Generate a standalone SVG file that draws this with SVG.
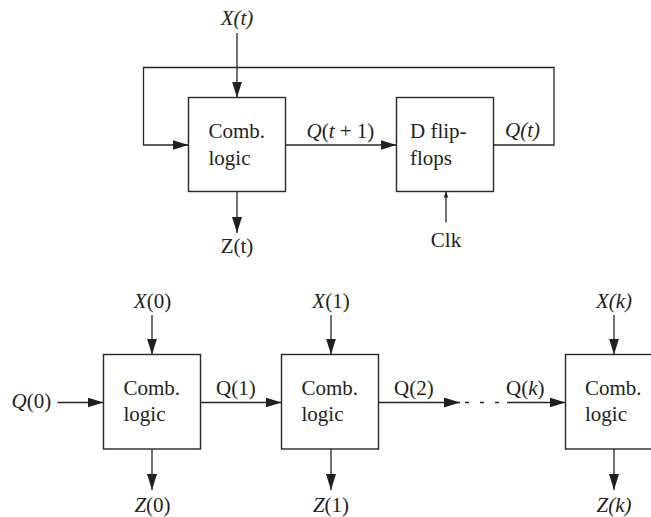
<svg xmlns="http://www.w3.org/2000/svg" width="651" height="517" viewBox="0 0 651 517">
<style>
  .box{fill:#fff;stroke:#2b2621;stroke-width:1.4}
  .ln{fill:none;stroke:#2b2621;stroke-width:1.3}
  text{font-family:"Liberation Serif","Times New Roman",serif;font-size:21px;fill:#231f20}
  .c{text-anchor:middle}
  .i{font-style:italic}
</style>
<defs>
  <marker id="ah" markerUnits="userSpaceOnUse" markerWidth="17" markerHeight="11" refX="16" refY="5" orient="auto">
    <path d="M0,0 L16,5 L0,10 z" fill="#231f20"/>
  </marker>
  <marker id="sh" markerUnits="userSpaceOnUse" markerWidth="7" markerHeight="5" refX="6" refY="2.25" orient="auto">
    <path d="M0,0 L6,2.25 L0,4.5 z" fill="#231f20"/>
  </marker>
</defs>
<rect width="651" height="517" fill="#fff"/>
<g id="connectors">
  <line class="ln" x1="237" y1="33" x2="237" y2="97.5" marker-end="url(#ah)"/>
  <path class="ln" d="M493.5,145 H554 V67.5 H143.5 V145 H188.5" marker-end="url(#ah)"/>
  <line class="ln" x1="285.5" y1="145" x2="396.5" y2="145" marker-end="url(#ah)"/>
  <line class="ln" x1="237" y1="191.5" x2="237" y2="233" marker-end="url(#ah)"/>
  <line class="ln" x1="446" y1="222.5" x2="446" y2="191.5" marker-end="url(#sh)"/>
  <line class="ln" x1="152" y1="315" x2="152" y2="354.5" marker-end="url(#ah)"/>
  <line class="ln" x1="331" y1="315" x2="331" y2="354.5" marker-end="url(#ah)"/>
  <line class="ln" x1="614" y1="315" x2="614" y2="354.5" marker-end="url(#ah)"/>
  <line class="ln" x1="57.5" y1="402.5" x2="103.5" y2="402.5" marker-end="url(#ah)"/>
  <line class="ln" x1="200.5" y1="402.5" x2="281.5" y2="402.5" marker-end="url(#ah)"/>
  <line class="ln" x1="378.5" y1="402.5" x2="460" y2="402.5" marker-end="url(#ah)"/>
  <line class="ln" x1="465" y1="402.5" x2="501" y2="402.5" stroke-dasharray="4 11"/>
  <line class="ln" x1="507" y1="402.5" x2="565.5" y2="402.5" marker-end="url(#ah)"/>
  <line class="ln" x1="152" y1="449" x2="152" y2="490" marker-end="url(#ah)"/>
  <line class="ln" x1="331" y1="449" x2="331" y2="490" marker-end="url(#ah)"/>
  <line class="ln" x1="614" y1="449" x2="614" y2="490" marker-end="url(#ah)"/>
</g>
<g id="labels">
  <text class="c i" x="237" y="25">X(t)</text>
  <text x="306.5" y="138"><tspan class="i">Q</tspan>(<tspan class="i">t</tspan> + 1)</text>
  <text class="i" x="505" y="137">Q(t)</text>
  <text class="c" x="237" y="253">Z(t)</text>
  <text class="c" x="446" y="247">Clk</text>
  <text class="c" x="152.5" y="307.5"><tspan class="i">X</tspan>(0)</text>
  <text class="c" x="331" y="307.5"><tspan class="i">X</tspan>(1)</text>
  <text class="c i" x="614" y="307.5">X(k)</text>
  <text x="11.5" y="408"><tspan class="i">Q</tspan>(0)</text>
  <text x="216" y="395">Q(1)</text>
  <text x="394" y="395">Q(2)</text>
  <text x="506" y="395">Q(<tspan class="i">k</tspan>)</text>
  <text class="c" x="152.5" y="512"><tspan class="i">Z</tspan>(0)</text>
  <text class="c" x="331" y="512"><tspan class="i">Z</tspan>(1)</text>
  <text class="c i" x="614" y="512">Z(k)</text>
</g>
<g id="comb-top">
  <rect class="box" x="188.5" y="97.5" width="97" height="94"/>
  <text x="208.5" y="138">Comb.</text>
  <text x="208.5" y="165">logic</text>
</g>
<g id="dff">
  <rect class="box" x="396.5" y="97.5" width="97" height="94"/>
  <text x="410" y="138">D flip-</text>
  <text x="410" y="165">flops</text>
</g>
<g id="comb-0">
  <rect class="box" x="103.5" y="354.5" width="97" height="94.5"/>
  <text x="123.5" y="394.5">Comb.</text>
  <text x="123.5" y="421">logic</text>
</g>
<g id="comb-1">
  <rect class="box" x="281.5" y="354.5" width="97" height="94.5"/>
  <text x="301.5" y="394.5">Comb.</text>
  <text x="301.5" y="421">logic</text>
</g>
<g id="comb-k">
  <rect class="box" x="565.5" y="354.5" width="97" height="94.5"/>
  <text x="585" y="394.5">Comb.</text>
  <text x="585" y="421">logic</text>
</g>
</svg>
